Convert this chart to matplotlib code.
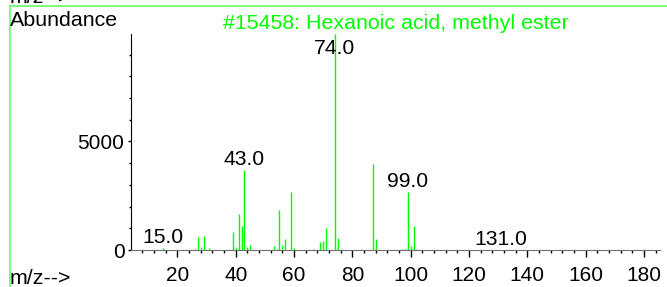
import matplotlib
matplotlib.use("Agg")
from matplotlib import pyplot as plt
from matplotlib.ticker import MultipleLocator
from matplotlib.lines import Line2D

plt.rcParams['font.family'] = ['Liberation Sans', 'DejaVu Sans']

# spectrum
mz = [15, 26, 27, 28, 29, 31, 39, 40, 41, 42, 43, 44, 45, 53, 54, 55, 56, 57,
      59, 60, 67, 69, 70, 71, 74, 75, 76, 83, 87, 88, 97, 98, 99, 100, 101,
      102, 129, 130, 131]
abund = [92, 30, 580, 150, 640, 76, 840, 150, 1650, 1115, 3685, 150, 215, 170,
         60, 1820, 245, 490, 2690, 76, 30, 367, 430, 1025, 9950, 565, 30, 60,
         3975, 520, 60, 40, 2675, 170, 1115, 45, 15, 10, 20]
labelled = [15, 43, 74, 99, 131]
title = "#15458: Hexanoic acid, methyl ester"

W, H = 667, 287
fig = plt.figure(figsize=(W / 100, H / 100), dpi=100)
ax = fig.add_axes([131 / W, (H - 250) / H, (660 - 131) / W, (250 - 34) / H])

ax.vlines(mz, 0, abund, colors='#00ff00', lw=1)

ymax = max(abund)
ax.set_xlim(4.1, 185.5)
ax.set_ylim(0, ymax)
ax.xaxis.set_major_locator(MultipleLocator(20))
ax.xaxis.set_minor_locator(MultipleLocator(4))
ax.set_yticks([0, 5000])
ax.yaxis.set_minor_locator(MultipleLocator(1000))

for s in ['top', 'right']:
    ax.spines[s].set_visible(False)
ax.spines['left'].set_color('black')
ax.spines['bottom'].set_color('#707070')
ax.tick_params(axis='x', which='major', length=4.8, width=1, pad=7, labelsize=15, colors='black')
ax.tick_params(axis='x', which='minor', length=2.4, width=1, colors='black')
ax.tick_params(axis='y', which='major', length=2.2, width=1, pad=2.5, labelsize=15, colors='black')
ax.tick_params(axis='y', which='minor', length=1.4, width=1, colors='black')

for m in labelled:
    a = abund[mz.index(m)]
    ax.annotate(f"{m:.1f}", xy=(m, min(a, ymax * 0.885)), xytext=(0, 3.6),
                textcoords='offset points', ha='center', va='baseline', fontsize=15.2)

# frame lines and texts
green = '#80ff80'
fig.add_artist(Line2D([10 / W, 1], [1 - 6 / H, 1 - 6 / H], color=green, lw=1.5))
fig.add_artist(Line2D([10 / W, 10 / W], [0, 1 - 6 / H], color=green, lw=1.5))
fig.text(10 / W, 1 - 3 / H, "m/z-->", fontsize=15.4, va='baseline')
fig.text(10 / W, 1 - 26.5 / H, "Abundance", fontsize=15.4, va='baseline')
fig.text(396 / W, 1 - 29 / H, title, fontsize=15.4, color='#00ff00', ha='center', va='baseline')
fig.text(10 / W, 1 - 284 / H, "m/z-->", fontsize=15.4, va='baseline')

fig.savefig("out.png", dpi=100)
